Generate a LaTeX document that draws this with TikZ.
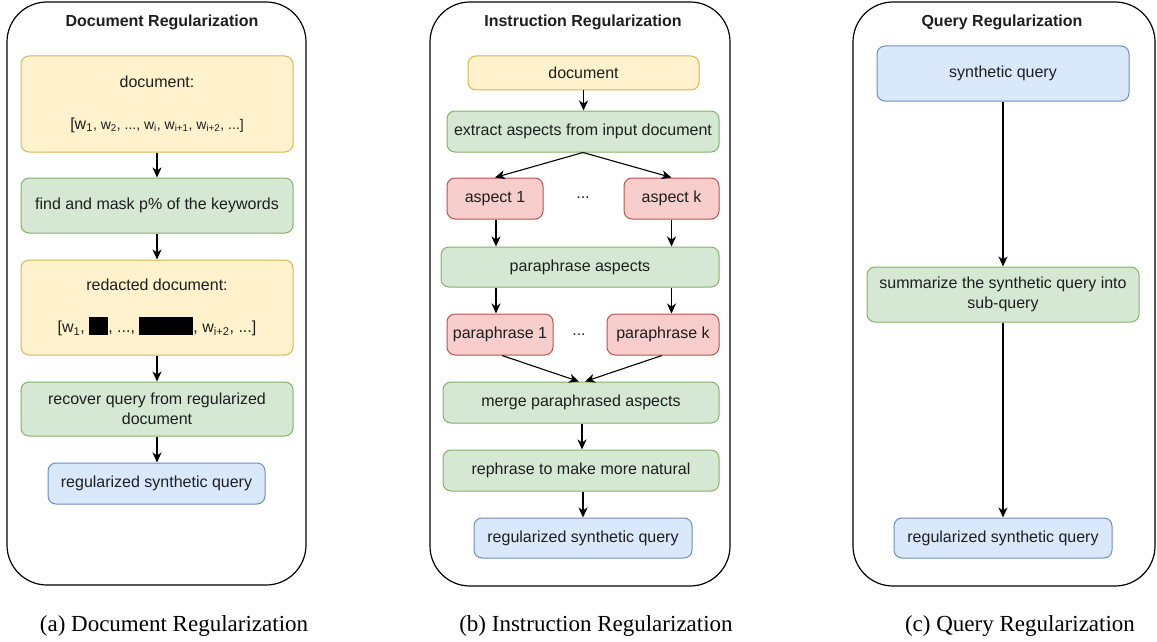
\documentclass[tikz,border=0pt]{standalone}
\usepackage{fontspec}
\setmainfont{Liberation Sans}
\newfontfamily\capfont{Liberation Serif}
\usetikzlibrary{arrows.meta}
\definecolor{yfill}{HTML}{FFF2CC}\definecolor{ydraw}{HTML}{D6B656}
\definecolor{gfill}{HTML}{D5E8D4}\definecolor{gdraw}{HTML}{82B366}
\definecolor{rfill}{HTML}{F8CECC}\definecolor{rdraw}{HTML}{B85450}
\definecolor{bfill}{HTML}{DAE8FC}\definecolor{bdraw}{HTML}{6C8EBF}
\definecolor{txt}{HTML}{1E1E1E}
\newcommand{\sm}{\fontsize{14}{20}\selectfont}
\newcommand{\blk}[1]{{\color{black}\rule[-2pt]{#1}{18pt}}}
\tikzset{
  box/.style={rectangle, rounded corners=8pt, line width=1pt, inner sep=2pt, align=center,
    text=txt, font=\fontsize{16}{20}\selectfont},
  ybox/.style={box, fill=yfill, draw=ydraw},
  gbox/.style={box, fill=gfill, draw=gdraw},
  rbox/.style={box, fill=rfill, draw=rdraw},
  bbox/.style={box, fill=bfill, draw=bdraw},
  bx/.style 2 args={minimum width=#1pt, minimum height=#2pt},
  panel/.style={rectangle, rounded corners=40pt, draw=black, line width=1.2pt},
  title/.style={font=\fontsize{16}{20}\selectfont\bfseries, text=txt},
  dots/.style={font=\fontsize{16}{20}\selectfont, text=txt},
  caption/.style={font=\capfont\fontsize{23}{26}\selectfont, text=black},
  arr/.style={-{Stealth[length=10pt,width=9pt,inset=3pt]}, line width=1.1pt, black},
}
\begin{document}
\begin{tikzpicture}[x=1pt, y=-1pt]
\useasboundingbox (0,0) rectangle (1157,642);
% ---------- Panel A ----------
\node[panel, bx={299}{583}] (panelA) at (156.5,293.5) {};
\node[title] (titleA) at (162,22) {Document Regularization};
\node[ybox, bx={272}{96}] (docA) at (157,104) {document:\\[22pt][w\textsubscript{1}\sm, w\textsubscript{2}, ..., w\textsubscript{i}, w\textsubscript{i+1}, w\textsubscript{i+2}, ...]};
\node[gbox, bx={272}{55}] (findA) at (157,205.5) {find and mask p\% of the keywords};
\node[ybox, bx={272}{95}] (redA) at (157,307.5) {redacted document:\\[22pt][w\textsubscript{1}, \blk{19pt}, ..., \blk{54pt}, w\textsubscript{i+2}, ...]};
\node[gbox, bx={272}{54}] (recA) at (157,409) {recover query from regularized\\document};
\node[bbox, bx={217}{41}] (outA) at (156.5,483.5) {regularized synthetic query};
\draw[arr] (docA) -- (findA);
\draw[arr] (findA) -- (redA);
\draw[arr] (redA) -- (recA);
\draw[arr] (recA.south) -- (recA.south |- outA.north);
% ---------- Panel B ----------
\node[panel, bx={300}{584}] (panelB) at (580,294) {};
\node[title] (titleB) at (583,22) {Instruction Regularization};
\node[ybox, bx={231}{34}] (docB) at (583.5,73) {document};
\node[gbox, bx={272}{41}] (extB) at (583,131.5) {extract aspects from input document};
\node[rbox, bx={96}{41}] (a1) at (495,198.5) {aspect 1};
\node[rbox, bx={95}{41}] (ak) at (671.5,198.5) {aspect k};
\node[dots] (d1) at (583,198) {...};
\node[gbox, bx={278}{40}] (paB) at (580,267) {paraphrase aspects};
\node[rbox, bx={106}{41}] (p1) at (500,334.5) {paraphrase 1};
\node[rbox, bx={112}{41}] (pk) at (663,334.5) {paraphrase k};
\node[dots] (d2) at (579,335) {...};
\node[gbox, bx={276}{41}] (mergeB) at (581,402.5) {merge paraphrased aspects};
\node[gbox, bx={276}{41}] (rephB) at (581,470.5) {rephrase to make more natural};
\node[bbox, bx={218}{40}] (outB) at (583,538) {regularized synthetic query};
\coordinate (a1x) at ([xshift=1pt]a1.south);
\draw[arr] (docB.south) -- (docB.south |- extB.north);
\draw[arr] (extB.south) -- (a1.north);
\draw[arr] (extB.south) -- (ak.north);
\draw[arr] (a1x) -- (a1x |- paB.north);
\draw[arr] (ak.south) -- (ak.south |- paB.north);
\draw[arr] (a1x |- paB.south) -- (a1x |- p1.north);
\draw[arr] (ak.south |- paB.south) -- (ak.south |- pk.north);
\draw[arr] ([xshift=2pt]p1.south) -- ([xshift=-2pt]mergeB.north);
\draw[arr] ([xshift=-1pt]pk.south) -- ([xshift=4pt]mergeB.north);
\draw[arr] ([xshift=1pt]mergeB.south) -- ([xshift=1pt]mergeB.south |- rephB.north);
\draw[arr] ([xshift=2pt]rephB.south) -- ([xshift=2pt]rephB.south |- outB.north);
% ---------- Panel C ----------
\node[panel, bx={302}{584}] (panelC) at (1004,294) {};
\node[title] (titleC) at (1002,22) {Query Regularization};
\node[bbox, bx={252}{55}] (sqC) at (1003,73.5) {synthetic query};
\node[gbox, bx={272}{55}] (sumC) at (1003,294.5) {summarize the synthetic query into\\sub-query};
\node[bbox, bx={218}{40}] (outC) at (1003,538) {regularized synthetic query};
\draw[arr] (sqC) -- (sumC);
\draw[arr] (sumC) -- (outC);
% ---------- Captions ----------
\node[caption] (capA) at (174,626) {(a) Document Regularization};
\node[caption] (capB) at (596,626) {(b) Instruction Regularization};
\node[caption] (capC) at (1020,626) {(c) Query Regularization};
\end{tikzpicture}
\end{document}
